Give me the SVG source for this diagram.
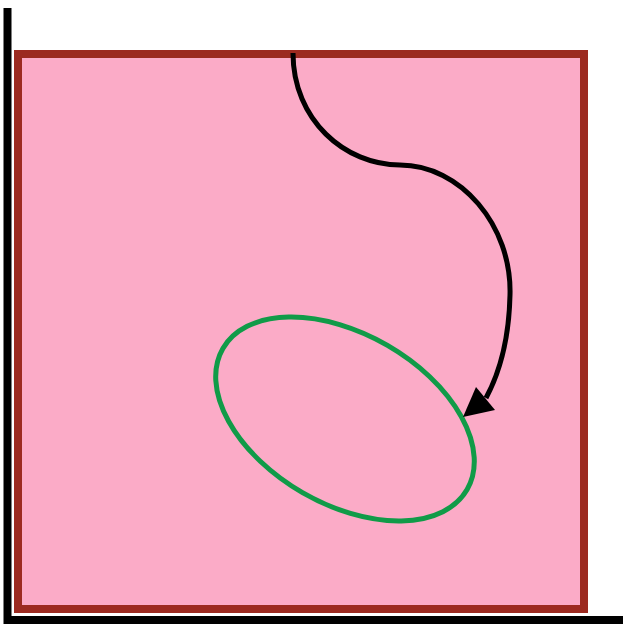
<svg xmlns="http://www.w3.org/2000/svg" width="623" height="625" viewBox="0 0 623 625">
<style>
.axis{stroke:#000;stroke-width:8;fill:none}
.box{fill:#fbabc7;stroke:#9c2a20;stroke-width:8}
.conn{fill:none;stroke:#000;stroke-width:5}
.ell{fill:none;stroke:#109b48;stroke-width:5}
</style>
<defs>
<marker id="ah" markerWidth="10" markerHeight="10" refX="9" refY="5" orient="auto" markerUnits="userSpaceOnUse" viewBox="0 0 10 10">
<path d="M0,0 L10,5 L0,10 Z" fill="#000"/>
</marker>
</defs>
<g id="axes">
<line class="axis" x1="7.5" y1="8" x2="7.5" y2="624"/>
<line class="axis" x1="4" y1="620" x2="623" y2="620"/>
</g>
<g id="box">
<rect class="box" x="18" y="54" width="566" height="555"/>
</g>
<g id="ellipse">
<ellipse class="ell" cx="345" cy="419" rx="141" ry="85" transform="rotate(30 345 419)"/>
</g>
<g id="connectors">
<path class="conn" d="M293,53 C293,120 345,165 400,165 C460,165 512,225 510,295 C509,340 500,372 486,398"/>
<polygon points="463,417 476,387 495,410" fill="#000"/>
</g>
</svg>
